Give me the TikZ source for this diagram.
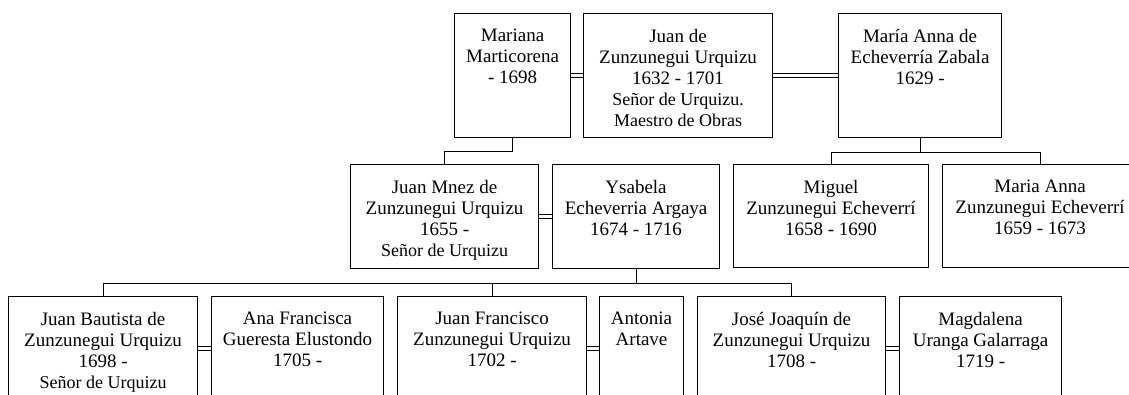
\documentclass[tikz,border=0pt]{standalone}
\usepackage{fontspec}
\setmainfont{Liberation Serif}
\tikzset{
  person/.style={draw, line width=1.1pt, anchor=north west, inner sep=0pt},
  names/.style={align=center, anchor=north, inner sep=0pt, yshift=-16pt,
    font=\fontsize{19}{21}\selectfont},
  marriage/.style={double, double distance=2.8pt, line width=0.9pt},
  descent/.style={line width=1.1pt},
}
\newcommand{\rank}[1]{{\fontsize{18}{20}\selectfont #1}}
\begin{document}
\begin{tikzpicture}[x=1pt, y=-1pt]
  \useasboundingbox (0,0) rectangle (1129,394);
  \clip (0,0) rectangle (1129,394);
  % parents
  \node[person, minimum width=116, minimum height=124,
    label={[names]north:{Mariana\\Marticorena\\- 1698}}] (mariana) at (454,13) {};
  \node[person, minimum width=189, minimum height=124,
    label={[names]north:{Juan de\\Zunzunegui Urquizu\\1632 - 1701\\\rank{Señor de Urquizu.}\\\rank{Maestro de Obras}}}] (juan) at (583,13) {};
  \node[person, minimum width=163, minimum height=124,
    label={[names]north:{María Anna de\\Echeverría Zabala\\1629 -}}] (maria) at (838,13) {};
  % children
  \node[person, minimum width=188, minimum height=104,
    label={[names]north:{Juan Mnez de\\Zunzunegui Urquizu\\1655 -\\\rank{Señor de Urquizu}}}] (juanmnez) at (350,164) {};
  \node[person, minimum width=167, minimum height=104,
    label={[names]north:{Ysabela\\Echeverria Argaya\\1674 - 1716}}] (ysabela) at (552,164) {};
  \node[person, minimum width=195, minimum height=103,
    label={[names]north:{Miguel\\Zunzunegui Echeverrí\\1658 - 1690}}] (miguel) at (733,164) {};
  \node[person, minimum width=195, minimum height=103,
    label={[names]north:{Maria Anna\\Zunzunegui Echeverrí\\1659 - 1673}}] (mariaanna) at (942,164) {};
  % grandchildren
  \node[person, minimum width=189, minimum height=104,
    label={[names]north:{Juan Bautista de\\Zunzunegui Urquizu\\1698 -\\\rank{Señor de Urquizu}}}] (bautista) at (8,296) {};
  \node[person, minimum width=172, minimum height=104,
    label={[names]north:{Ana Francisca\\Gueresta Elustondo\\1705 -}}] (ana) at (211,296) {};
  \node[person, minimum width=189, minimum height=104,
    label={[names]north:{Juan Francisco\\Zunzunegui Urquizu\\1702 -}}] (francisco) at (397,296) {};
  \node[person, minimum width=84, minimum height=104,
    label={[names]north:{Antonia\\Artave}}] (antonia) at (599,296) {};
  \node[person, minimum width=188, minimum height=104,
    label={[names]north:{José Joaquín de\\Zunzunegui Urquizu\\1708 -}}] (jose) at (697,296) {};
  \node[person, minimum width=162, minimum height=104,
    label={[names]north:{Magdalena\\Uranga Galarraga\\1719 -}}] (magdalena) at (899,296) {};
  % marriages
  \draw[marriage] (mariana) -- (juan);
  \draw[marriage] (juan) -- (maria);
  \draw[marriage] (juanmnez) -- (ysabela);
  \draw[marriage] (bautista) -- (ana);
  \draw[marriage] (francisco) -- (antonia);
  \draw[marriage] (jose) -- (magdalena);
  % descent lines
  \draw[descent] (mariana.south) -- ++(0,13) -| (juanmnez.north);
  \draw[descent] (maria.south) -- ++(0,14) coordinate (mariabar);
  \draw[descent] (miguel.north) |- (mariabar) -| (mariaanna.north);
  \draw[descent] (ysabela.south) -- ++(0,14) coordinate (ysabar);
  \draw[descent] (bautista.north) |- (ysabar) -| (jose.north);
  \draw[descent] (ysabar -| francisco.north) -- (francisco.north);
\end{tikzpicture}
\end{document}
